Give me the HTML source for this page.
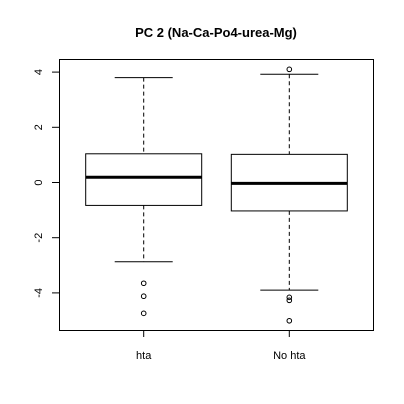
<!DOCTYPE html>
<html><head><meta charset="utf-8"><style>html,body{margin:0;padding:0;background:#fff}svg{display:block}text{font-family:"Liberation Sans",Arial,sans-serif}</style></head>
<body>
<svg id="chart" width="404" height="404" viewBox="0 0 404 404" xmlns="http://www.w3.org/2000/svg">
<rect width="404" height="404" fill="#fff"/>
<text x="216" y="37" text-anchor="middle" font-size="13" font-weight="bold">PC 2 (Na-Ca-Po4-urea-Mg)</text>
<rect x="59.5" y="59.5" width="314" height="271" fill="none" stroke="#000" stroke-width="1"/>
<g id="g"></g>
</svg>
<script>
const categories = ["hta", "No hta"];
const q1Values = [-0.83, -1.03];
const medianValues = [0.19, -0.03];
const q3Values = [1.04, 1.02];
const lowerWhisker = [-2.87, -3.9];
const upperWhisker = [3.8, 3.92];
const outliers = [[-3.65, -4.12, -4.74], [4.1, -4.16, -4.27, -5.01]];
const yTicks = [-4, -2, 0, 2, 4];

const NS = "http://www.w3.org/2000/svg";
const g = document.getElementById('g');
const y = v => 182.5 - v * 27.6;
const x = i => 143.7 + i * 145.6;
function mk(tag, attrs, txt) {
  const e = document.createElementNS(NS, tag);
  for (const k in attrs) e.setAttribute(k, attrs[k]);
  if (txt !== undefined) e.textContent = txt;
  g.appendChild(e);
  return e;
}
yTicks.forEach(t => {
  const l = mk('line', {x1: 52, x2: 59.5, y1: y(t), y2: y(t), stroke: '#000'});
  
  
  const tx = mk('text', {x: 42, y: y(t), 'font-size': 11, 'text-anchor': 'middle', transform: `rotate(-90 42 ${y(t)})`}, String(t));
  
  
});
categories.forEach((c, i) => {
  const cx = x(i), hw = 58, cw = 29;
  const t = mk('line', {x1: cx, x2: cx, y1: 330.5, y2: 337, stroke: '#000'});
  
  
  const lb = mk('text', {x: cx, y: 359, 'font-size': 11, 'text-anchor': 'middle'}, c);
  
  
  const w1 = mk('line', {x1: cx, x2: cx, y1: y(upperWhisker[i]), y2: y(q3Values[i]), stroke: '#000', 'stroke-dasharray': '4,3'});
  
  
  const w2 = mk('line', {x1: cx, x2: cx, y1: y(q1Values[i]), y2: y(lowerWhisker[i]), stroke: '#000', 'stroke-dasharray': '4,3'});
  
  
  const c1 = mk('line', {x1: cx - cw, x2: cx + cw, y1: y(upperWhisker[i]), y2: y(upperWhisker[i]), stroke: '#000'});
  
  
  const c2 = mk('line', {x1: cx - cw, x2: cx + cw, y1: y(lowerWhisker[i]), y2: y(lowerWhisker[i]), stroke: '#000'});
  
  
  const b = mk('rect', {x: cx - hw, y: y(q3Values[i]), width: 2 * hw, height: y(q1Values[i]) - y(q3Values[i]), fill: 'none', stroke: '#000'});
  
  
  const m = mk('line', {x1: cx - hw, x2: cx + hw, y1: y(medianValues[i]), y2: y(medianValues[i]), stroke: '#000', 'stroke-width': 3});
  
  
  outliers[i].forEach(o => {
    const p = mk('circle', {cx: cx, cy: y(o), r: 2.3, fill: 'none', stroke: '#000'});
    
    
  });
});
</script>
</body></html>
